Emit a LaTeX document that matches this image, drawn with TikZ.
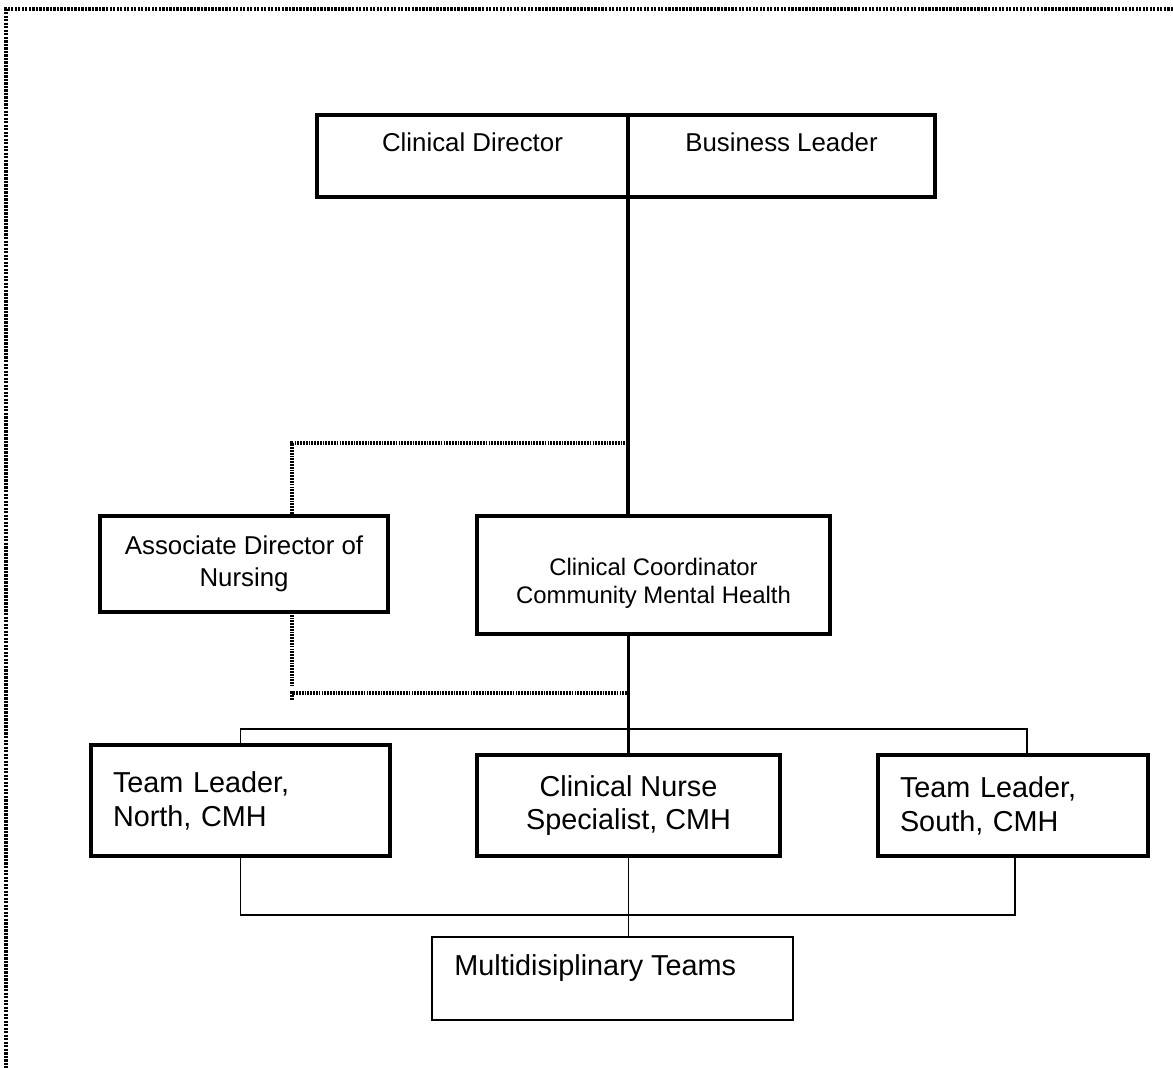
\documentclass[tikz,border=0pt]{standalone}
\usepackage{fontspec}
\setmainfont{Liberation Sans}
\usetikzlibrary{positioning,calc}
\newcommand{\pu}{0.02cm}
\tikzset{
  role/.style  = {draw, line width=2.1pt, inner sep=0pt, outer sep=0pt, align=center,
                  font=\fontsize{14.7}{18.1}\selectfont},
  wide/.style  = {role, font=\fontsize{16.4}{19.3}\selectfont},
  unit/.style  = {draw, line width=0.9pt, inner sep=0pt, outer sep=0pt},
  lbl/.style   = {inner sep=0pt, font=\fontsize{14.7}{18.1}\selectfont},
  lead/.style  = {line width=2.1pt},
  tie/.style   = {line width=0.9pt},
  dots/.style  = {line width=2pt, dash pattern=on 1pt off 0.6pt},
  pageframe/.style = {line width=2.6pt, dash pattern=on 1.3pt off 0.7pt},
}
\begin{document}
\begin{tikzpicture}[x=0.02cm, y=-0.02cm]
  \useasboundingbox (0,0) rectangle (1173,1068);
  \draw[pageframe] (1173,9) -- (6,9) -- (6,1068);
  % top pair
  \node[role, minimum width=311*\pu, minimum height=82*\pu] (cd) at (472.5,156) {};
  \node[role, minimum width=307*\pu, minimum height=82*\pu] (bl) at (781.5,156) {};
  \node[lbl, anchor=base] (cd-t) at ($(cd.north)+(0,37)$) {Clinical Director};
  \node[lbl, anchor=base] (bl-t) at ($(bl.north)+(0,37)$) {Business Leader};
  % middle row
  \node[role, minimum width=288*\pu, minimum height=96*\pu] (ad) at (244,564) {Associate Director of\\Nursing};
  \node[role, minimum width=353*\pu, minimum height=118*\pu] (cc) at (653.5,575) {};
  \node[lbl, align=center, font=\fontsize{13.6}{15.9}\selectfont] (cc-t) at ($(cc.center)+(0,8)$)
    {Clinical Coordinator\\Community Mental Health};
  % team row
  \node[wide, align=left, inner xsep=22*\pu, text width=255*\pu, minimum height=111*\pu] (tln)
    at (240.5,800.5) {Team Leader,\\North, CMH};
  \node[wide, minimum width=303*\pu, minimum height=101*\pu] (cns) at (628.5,805.5)
    {Clinical Nurse\\Specialist, CMH};
  \node[wide, align=left, inner xsep=22*\pu, text width=226*\pu, minimum height=101*\pu] (tls)
    at (1013,805.5) {Team Leader,\\South, CMH};
  \node[unit, minimum width=361*\pu, minimum height=83*\pu] (mdt) at (612.5,978.5) {};
  \node[lbl, anchor=base west, font=\fontsize{16.4}{19.3}\selectfont] (mdt-t)
    at ($(mdt.north west)+(22,38)$) {Multidisiplinary Teams};
  % lines
  \draw[lead] (cd.south east) -- (cd.south east |- cc.north);
  \coordinate (j1) at (628,443);
  \draw[dots] (j1) -| ($(ad.north)+(48,0)$);
  \coordinate (j2) at (628,693);
  \draw[dots] ($(ad.south)+(48,0)$) -- ++(0,74);
  \draw[dots] ($(ad.south)+(48,88)$) |- (j2);
  \draw[lead] (cns.north) -- (cns.north |- cc.south);
  \draw[tie] (tln.north) -- ++(0,-16) -| ($(tls.north)+(14,0)$);
  \draw[tie] (tln.south) -- ++(0,59) -| ($(tls.south)+(2,0)$);
  \draw[tie] (cns.south) -- (cns.south |- mdt.north);
\end{tikzpicture}
\end{document}
